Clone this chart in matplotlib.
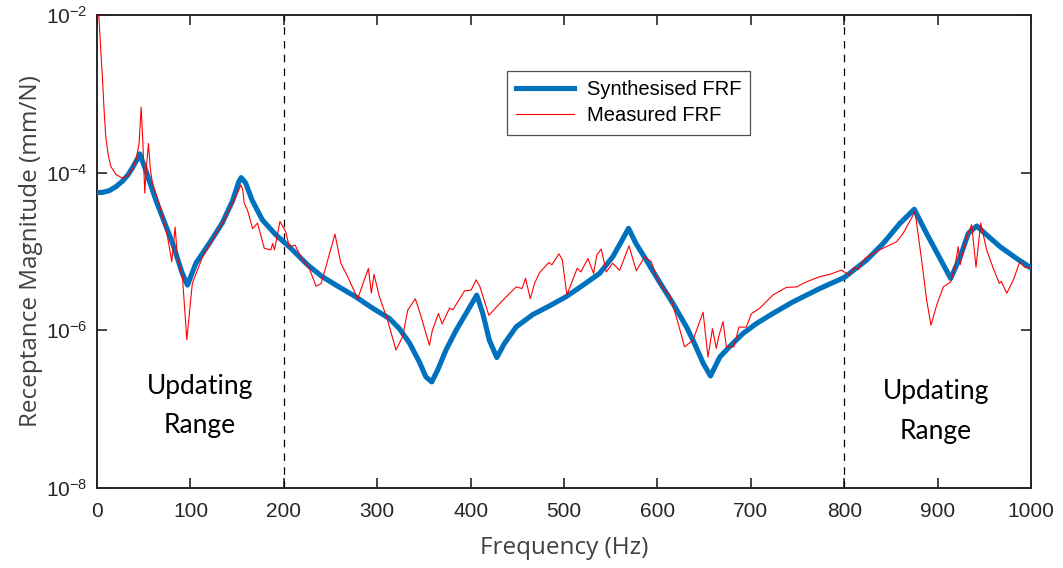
import numpy as np
import matplotlib
matplotlib.use("Agg")
import matplotlib.pyplot as plt
from matplotlib.ticker import FixedLocator, NullLocator

# Synthesised FRF (frequency in Hz, log10 of receptance in mm/N)
syn_freq = [0, 6, 12.9, 20, 27, 33, 37.8, 43, 45.7, 52, 63, 81, 91, 96.8, 105.8, 120,
            134, 145, 151.6, 154.3, 159, 166, 177, 191.5, 205.8, 225.4, 241, 259, 277,
            295, 313, 323.7, 334.4, 345, 352, 358.3, 364.8, 373.6, 384.4, 395, 406.5,
            413, 420, 428, 436, 448.7, 466.6, 484.5, 502, 520, 538, 552, 561, 569,
            577, 588, 602, 616.6, 631, 638, 649, 656.7, 666.7, 677, 691.6, 706, 723.5,
            745, 773.8, 800, 823.9, 841.7, 859.6, 874.9, 888, 902.5, 913.9, 924,
            932.8, 941.8, 952.4, 966.8, 984.6, 1000]
syn_log = [-4.254, -4.25, -4.23, -4.18, -4.11, -4.03, -3.94, -3.83, -3.762, -3.965,
           -4.35, -4.9, -5.27, -5.427, -5.15, -4.9, -4.64, -4.36, -4.12, -4.063, -4.13,
           -4.35, -4.6, -4.79, -4.94, -5.17, -5.32, -5.45, -5.576, -5.72, -5.85, -5.98,
           -6.16, -6.4, -6.59, -6.655, -6.5, -6.25, -6.0, -5.787, -5.554, -5.787,
           -6.126, -6.346, -6.17, -5.957, -5.8, -5.69, -5.575, -5.43, -5.278, -5.07,
           -4.88, -4.707, -4.9, -5.11, -5.385, -5.66, -5.957, -6.126, -6.42, -6.58,
           -6.34, -6.21, -6.04, -5.914, -5.787, -5.64, -5.47, -5.33, -5.11, -4.897,
           -4.643, -4.465, -4.77, -5.09, -5.342, -5.07, -4.77, -4.677, -4.79, -4.94,
           -5.09, -5.21]

# Measured FRF
meas_freq = [0, 2, 4, 5.7, 7.5, 9.3, 12, 14.7, 20, 27, 33, 37.8, 42, 45, 47.2, 49,
             51.1, 52.9, 55, 57, 59.3, 66.5, 75.4, 80, 83.6, 86, 91.4, 96.1, 102,
             112.9, 134.3, 148.7, 154, 156, 157.6, 161, 166.5, 171.8, 179, 186, 188,
             190, 195.8, 202, 205.8, 212, 220, 227.2, 234.4, 239.7, 243, 254.7, 261,
             268.3, 279, 290.5, 293.7, 296.5, 302.3, 311, 320, 327.2, 332.6, 340.8,
             347, 355.8, 359, 365.5, 369.4, 377.3, 381, 393.4, 400.5, 405.8, 410,
             419.4, 434.4, 448.7, 455, 458.7, 463.8, 468.4, 473.7, 483.7, 487, 494.4,
             498, 503, 514, 518, 525.5, 531.6, 535, 539.8, 545.2, 552, 559.5, 569.5,
             577.3, 586.3, 593.4, 598.8, 606, 613, 620.2, 629, 638, 648.8, 654.1,
             658.8, 663, 665.5, 670.2, 673.8, 681.7, 687.3, 695, 700.6, 709.5, 723.8,
             738, 749, 759.6, 773.8, 784.6, 797, 805, 811, 815, 822, 828, 837.8, 856,
             863, 875.7, 882.8, 888.2, 892.8, 898.9, 906, 914, 918.5, 922, 924, 931,
             936.4, 941, 946, 952.4, 959.5, 966, 968, 974, 981, 988, 993, 1000]
meas_log = [-1.8, -2.02, -2.45, -2.78, -3.2, -3.54, -3.78, -3.92, -4.02, -4.07,
            -4.04, -3.965, -3.82, -3.63, -3.17, -3.6, -4.26, -3.92, -3.63, -3.95,
            -4.13, -4.39, -4.81, -5.13, -4.69, -5.07, -5.32, -6.12, -5.405, -5.07,
            -4.64, -4.305, -4.156, -4.22, -4.39, -4.474, -4.71, -4.64, -4.96, -4.98,
            -4.9, -4.98, -4.62, -4.75, -4.94, -4.92, -5.11, -5.215, -5.44, -5.41,
            -5.28, -4.78, -5.15, -5.32, -5.6, -5.215, -5.53, -5.29, -5.575, -5.87,
            -6.25, -6.08, -5.745, -5.6, -5.83, -6.19, -6.0, -5.787, -5.92, -5.72,
            -5.74, -5.5, -5.49, -5.36, -5.45, -5.81, -5.62, -5.45, -5.47, -5.34,
            -5.6, -5.405, -5.27, -5.14, -5.17, -5.03, -5.1, -5.55, -5.215, -5.26,
            -5.09, -5.28, -5.045, -4.97, -5.26, -5.15, -5.24, -4.93, -5.245, -5.07,
            -5.13, -5.32, -5.47, -5.55, -5.83, -6.21, -6.126, -5.77, -6.34, -5.98,
            -6.23, -6.08, -5.89, -6.21, -6.21, -5.96, -5.96, -5.79, -5.72, -5.55,
            -5.456, -5.45, -5.385, -5.32, -5.29, -5.236, -5.3, -5.2, -5.23, -5.09,
            -5.045, -4.98, -4.877, -4.77, -4.495, -5.11, -5.62, -5.935, -5.68, -5.45,
            -5.385, -5.19, -4.94, -5.17, -4.81, -4.66, -5.2, -4.64, -4.98, -5.215,
            -5.405, -5.38, -5.53, -5.36, -5.13, -5.2, -5.215]

range_limits = [200, 800]
x_ticks = list(range(0, 1001, 100))
y_ticks = [1e-8, 1e-6, 1e-4, 1e-2]

syn_mag = 10.0 ** np.array(syn_log)
meas_mag = 10.0 ** np.array(meas_log)

fig = plt.figure(figsize=(10.63, 5.68), dpi=100)
ax = fig.add_axes([0.0913, 0.141, 0.8787, 0.8326])

ax.plot(syn_freq, syn_mag, color='#0072BD', linewidth=3.7, label='Synthesised FRF',
        solid_joinstyle='round', zorder=3)
ax.plot(meas_freq, meas_mag, color='red', linewidth=0.8, label='Measured FRF', zorder=4)

for xv in range_limits:
    ax.axvline(xv, color='black', linestyle=(0, (6, 5)), linewidth=0.9, zorder=2)

ax.set_yscale('log')
ax.set_xlim(0, 1000)
ax.set_ylim(1e-8, 1e-2)
ax.xaxis.set_major_locator(FixedLocator(x_ticks))
ax.yaxis.set_major_locator(FixedLocator(y_ticks))
ax.yaxis.set_minor_locator(NullLocator())
ax.tick_params(direction='in', length=7, width=1.2, top=True, right=True,
               labelsize=15, colors='#262626')
ax.tick_params(axis='x', pad=10)
ax.tick_params(axis='y', pad=7)
for lab in ax.get_xticklabels() + ax.get_yticklabels():
    lab.set_family('Liberation Sans')
for sp in ax.spines.values():
    sp.set_linewidth(1.4)
    sp.set_color('#262626')

ax.set_xlabel('Frequency (Hz)', fontsize=17.5, family='Open Sans', color='#404040', labelpad=11)
ax.set_ylabel('Receptance Magnitude (mm/N)', fontsize=17.5, family='Open Sans',
              color='#404040', labelpad=2)

ax.text(110, 10 ** -6.955, 'Updating\nRange', ha='center', va='center', fontsize=19,
        family='Lato', linespacing=1.7, color='black')
ax.text(898, 10 ** -7.03, 'Updating\nRange', ha='center', va='center', fontsize=19,
        family='Lato', linespacing=1.75, color='black')

leg = ax.legend(loc='center', bbox_to_anchor=(0.569, 0.814),
                prop={'family': 'Liberation Sans', 'size': 14.5}, frameon=True,
                fancybox=False, edgecolor='#262626', handlelength=2.9,
                borderpad=0.45, labelspacing=0.35, handletextpad=0.6)
leg.get_frame().set_linewidth(0.9)

fig.savefig('out.png', dpi=100)
